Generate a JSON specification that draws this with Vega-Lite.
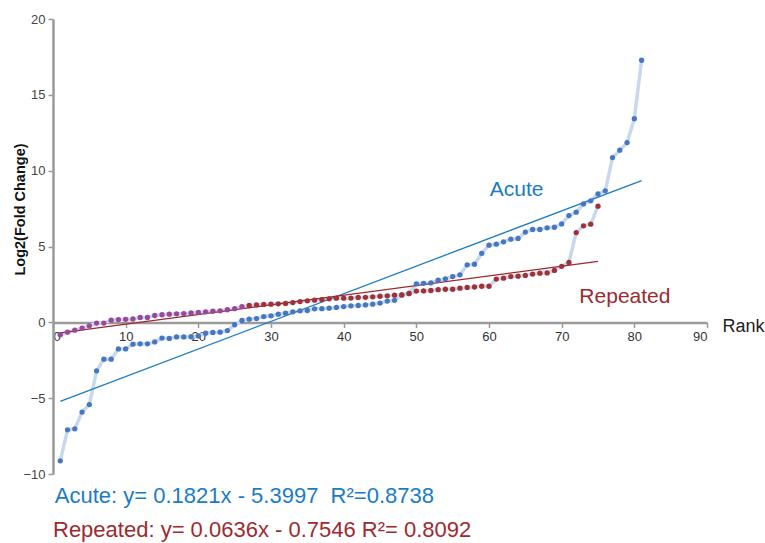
{
  "$schema": "https://vega.github.io/schema/vega-lite/v6.json",
  "width": 654,
  "height": 455,
  "autosize": "none",
  "padding": {"left": 53, "top": 19, "right": 58, "bottom": 69},
  "background": "white",
  "config": {"view": {"stroke": null}, "font": "Liberation Sans"},
  "datasets": {
    "pts": [
      {"series":"Acute","rank":1,"value":-9.13},{"series":"Acute","rank":2,"value":-7.09},{"series":"Acute","rank":3,"value":-7.02},{"series":"Acute","rank":4,"value":-5.92},{"series":"Acute","rank":5,"value":-5.42},{"series":"Acute","rank":6,"value":-3.2},{"series":"Acute","rank":7,"value":-2.43},{"series":"Acute","rank":8,"value":-2.43},{"series":"Acute","rank":9,"value":-1.75},{"series":"Acute","rank":10,"value":-1.75},
      {"series":"Acute","rank":11,"value":-1.44},{"series":"Acute","rank":12,"value":-1.42},{"series":"Acute","rank":13,"value":-1.42},{"series":"Acute","rank":14,"value":-1.29},{"series":"Acute","rank":15,"value":-1.04},{"series":"Acute","rank":16,"value":-1.06},{"series":"Acute","rank":17,"value":-0.96},{"series":"Acute","rank":18,"value":-0.96},{"series":"Acute","rank":19,"value":-0.95},{"series":"Acute","rank":20,"value":-0.9},
      {"series":"Acute","rank":21,"value":-0.72},{"series":"Acute","rank":22,"value":-0.67},{"series":"Acute","rank":23,"value":-0.65},{"series":"Acute","rank":24,"value":-0.54},{"series":"Acute","rank":25,"value":-0.16},{"series":"Acute","rank":26,"value":0.12},{"series":"Acute","rank":27,"value":0.21},{"series":"Acute","rank":28,"value":0.25},{"series":"Acute","rank":29,"value":0.38},{"series":"Acute","rank":30,"value":0.43},
      {"series":"Acute","rank":31,"value":0.54},{"series":"Acute","rank":32,"value":0.6},{"series":"Acute","rank":33,"value":0.69},{"series":"Acute","rank":34,"value":0.76},{"series":"Acute","rank":35,"value":0.78},{"series":"Acute","rank":36,"value":0.89},{"series":"Acute","rank":37,"value":0.9},{"series":"Acute","rank":38,"value":0.93},{"series":"Acute","rank":39,"value":0.98},{"series":"Acute","rank":40,"value":1.04},
      {"series":"Acute","rank":41,"value":1.09},{"series":"Acute","rank":42,"value":1.11},{"series":"Acute","rank":43,"value":1.15},{"series":"Acute","rank":44,"value":1.2},{"series":"Acute","rank":45,"value":1.27},{"series":"Acute","rank":46,"value":1.4},{"series":"Acute","rank":47,"value":1.45},{"series":"Acute","rank":48,"value":1.81},{"series":"Acute","rank":49,"value":1.9},{"series":"Acute","rank":50,"value":2.54},
      {"series":"Acute","rank":51,"value":2.57},{"series":"Acute","rank":52,"value":2.6},{"series":"Acute","rank":53,"value":2.78},{"series":"Acute","rank":54,"value":2.87},{"series":"Acute","rank":55,"value":3.02},{"series":"Acute","rank":56,"value":3.13},{"series":"Acute","rank":57,"value":3.79},{"series":"Acute","rank":58,"value":3.83},{"series":"Acute","rank":59,"value":4.54},{"series":"Acute","rank":60,"value":5.09},
      {"series":"Acute","rank":61,"value":5.15},{"series":"Acute","rank":62,"value":5.31},{"series":"Acute","rank":63,"value":5.48},{"series":"Acute","rank":64,"value":5.53},{"series":"Acute","rank":65,"value":5.95},{"series":"Acute","rank":66,"value":6.12},{"series":"Acute","rank":67,"value":6.12},{"series":"Acute","rank":68,"value":6.23},{"series":"Acute","rank":69,"value":6.27},{"series":"Acute","rank":70,"value":6.49},
      {"series":"Acute","rank":71,"value":7.04},{"series":"Acute","rank":72,"value":7.26},{"series":"Acute","rank":73,"value":7.81},{"series":"Acute","rank":74,"value":8.01},{"series":"Acute","rank":75,"value":8.47},{"series":"Acute","rank":76,"value":8.67},{"series":"Acute","rank":77,"value":10.86},{"series":"Acute","rank":78,"value":11.35},{"series":"Acute","rank":79,"value":11.85},{"series":"Acute","rank":80,"value":13.43},
      {"series":"Acute","rank":81,"value":17.28},
      {"series":"Repeated","rank":1,"value":-0.82},{"series":"Repeated","rank":2,"value":-0.65},{"series":"Repeated","rank":3,"value":-0.52},{"series":"Repeated","rank":4,"value":-0.38},{"series":"Repeated","rank":5,"value":-0.23},{"series":"Repeated","rank":6,"value":-0.05},{"series":"Repeated","rank":7,"value":-0.05},{"series":"Repeated","rank":8,"value":0.14},{"series":"Repeated","rank":9,"value":0.18},{"series":"Repeated","rank":10,"value":0.2},
      {"series":"Repeated","rank":11,"value":0.22},{"series":"Repeated","rank":12,"value":0.32},{"series":"Repeated","rank":13,"value":0.32},{"series":"Repeated","rank":14,"value":0.45},{"series":"Repeated","rank":15,"value":0.5},{"series":"Repeated","rank":16,"value":0.54},{"series":"Repeated","rank":17,"value":0.56},{"series":"Repeated","rank":18,"value":0.58},{"series":"Repeated","rank":19,"value":0.62},{"series":"Repeated","rank":20,"value":0.65},
      {"series":"Repeated","rank":21,"value":0.69},{"series":"Repeated","rank":22,"value":0.73},{"series":"Repeated","rank":23,"value":0.76},{"series":"Repeated","rank":24,"value":0.83},{"series":"Repeated","rank":25,"value":0.9},{"series":"Repeated","rank":26,"value":1.04},{"series":"Repeated","rank":27,"value":1.11},{"series":"Repeated","rank":28,"value":1.15},{"series":"Repeated","rank":29,"value":1.18},{"series":"Repeated","rank":30,"value":1.2},
      {"series":"Repeated","rank":31,"value":1.22},{"series":"Repeated","rank":32,"value":1.25},{"series":"Repeated","rank":33,"value":1.3},{"series":"Repeated","rank":34,"value":1.37},{"series":"Repeated","rank":35,"value":1.42},{"series":"Repeated","rank":36,"value":1.46},{"series":"Repeated","rank":37,"value":1.5},{"series":"Repeated","rank":38,"value":1.55},{"series":"Repeated","rank":39,"value":1.59},{"series":"Repeated","rank":40,"value":1.59},
      {"series":"Repeated","rank":41,"value":1.6},{"series":"Repeated","rank":42,"value":1.64},{"series":"Repeated","rank":43,"value":1.65},{"series":"Repeated","rank":44,"value":1.68},{"series":"Repeated","rank":45,"value":1.72},{"series":"Repeated","rank":46,"value":1.75},{"series":"Repeated","rank":47,"value":1.79},{"series":"Repeated","rank":48,"value":1.81},{"series":"Repeated","rank":49,"value":1.9},{"series":"Repeated","rank":50,"value":2.06},
      {"series":"Repeated","rank":51,"value":2.07},{"series":"Repeated","rank":52,"value":2.1},{"series":"Repeated","rank":53,"value":2.15},{"series":"Repeated","rank":54,"value":2.18},{"series":"Repeated","rank":55,"value":2.18},{"series":"Repeated","rank":56,"value":2.25},{"series":"Repeated","rank":57,"value":2.3},{"series":"Repeated","rank":58,"value":2.33},{"series":"Repeated","rank":59,"value":2.38},{"series":"Repeated","rank":60,"value":2.38},
      {"series":"Repeated","rank":61,"value":2.85},{"series":"Repeated","rank":62,"value":2.91},{"series":"Repeated","rank":63,"value":3.02},{"series":"Repeated","rank":64,"value":3.04},{"series":"Repeated","rank":65,"value":3.09},{"series":"Repeated","rank":66,"value":3.18},{"series":"Repeated","rank":67,"value":3.24},{"series":"Repeated","rank":68,"value":3.26},{"series":"Repeated","rank":69,"value":3.42},{"series":"Repeated","rank":70,"value":3.69},
      {"series":"Repeated","rank":71,"value":3.95},{"series":"Repeated","rank":72,"value":5.92},{"series":"Repeated","rank":73,"value":6.36},{"series":"Repeated","rank":74,"value":6.47},{"series":"Repeated","rank":75,"value":7.66}
    ],
    "trend": [
      {"series":"Acute","rank":1,"value":-5.2176},
      {"series":"Acute","rank":81,"value":9.3504},
      {"series":"Repeated","rank":1,"value":-0.691},
      {"series":"Repeated","rank":75,"value":4.0154}
    ],
    "notes": [
      {"series":"Acute","label":"Acute","rank":63.8,"value":8.7},
      {"series":"Repeated","label":"Repeated","rank":78.7,"value":1.65}
    ],
    "eqs": [
      {"series":"Acute","label":"Acute: y= 0.1821x - 5.3997\u00a0 R²=0.8738","rank":0.25,"value":-11.9},
      {"series":"Repeated","label":"Repeated: y= 0.0636x - 0.7546 R²= 0.8092","rank":0,"value":-14.15}
    ]
  },
  "layer": [
    {
      "data": {"name": "pts"},
      "mark": {"type": "line", "color": "#c8d8ef", "strokeWidth": 3.5},
      "encoding": {
        "x": {"field": "rank", "type": "quantitative",
          "scale": {"domain": [0, 90], "nice": false},
          "axis": {
            "offset": -151.5, "values": [0,10,20,30,40,50,60,70,80,90],
            "domainColor": "#9a9a9a", "domainWidth": 2.5, "tickColor": "#9a9a9a", "tickWidth": 1.5, "tickSize": 5,
            "labelFontSize": 13, "labelColor": "#333333", "labelPadding": 3, "grid": false,
            "title": "Rank", "titleFontSize": 18, "titleFontWeight": "normal", "titleColor": "#222222",
            "titleAlign": "left", "titleBaseline": "middle", "titleX": 669, "titleY": 4
          }},
        "y": {"field": "value", "type": "quantitative",
          "scale": {"domain": [-10, 20], "nice": false},
          "axis": {
            "values": [-10,-5,0,5,10,15,20],
            "domainColor": "#9a9a9a", "domainWidth": 2.5, "tickColor": "#9a9a9a", "tickWidth": 1.5, "tickSize": 5,
            "labelFontSize": 13, "labelColor": "#444444", "labelPadding": 3, "grid": false,
            "title": "Log2(Fold Change)", "titleFontSize": 14.5, "titleFontWeight": "bold", "titleColor": "#111111",
            "titleAngle": 270, "titleAlign": "center", "titleBaseline": "middle", "titleX": -33, "titleY": 190
          }},
        "detail": {"field": "series"},
        "order": {"field": "rank"}
      }
    },
    {
      "data": {"name": "trend"},
      "mark": {"type": "line", "strokeWidth": 1.3},
      "encoding": {
        "x": {"field": "rank", "type": "quantitative"},
        "y": {"field": "value", "type": "quantitative"},
        "detail": {"field": "series"},
        "color": {"condition": {"test": "datum.series === 'Acute'", "value": "#1a7cc6"}, "value": "#a1262c"}
      }
    },
    {
      "data": {"name": "pts"},
      "mark": {"type": "circle", "size": 28, "opacity": 1},
      "encoding": {
        "x": {"field": "rank", "type": "quantitative"},
        "y": {"field": "value", "type": "quantitative"},
        "color": {"condition": [
          {"test": "datum.series === 'Acute'", "value": "#4677c3"},
          {"test": "datum.rank <= 26", "value": "#9a479c"}
        ], "value": "#a23136"}
      }
    },
    {
      "data": {"name": "notes"},
      "mark": {"type": "text", "fontSize": 21, "align": "center", "baseline": "middle"},
      "encoding": {
        "x": {"field": "rank", "type": "quantitative"},
        "y": {"field": "value", "type": "quantitative"},
        "text": {"field": "label"},
        "color": {"condition": {"test": "datum.series === 'Acute'", "value": "#1a7cc6"}, "value": "#9e2a2f"}
      }
    },
    {
      "data": {"name": "eqs"},
      "mark": {"type": "text", "fontSize": 22, "align": "left", "baseline": "alphabetic"},
      "encoding": {
        "x": {"field": "rank", "type": "quantitative"},
        "y": {"field": "value", "type": "quantitative"},
        "text": {"field": "label"},
        "color": {"condition": {"test": "datum.series === 'Acute'", "value": "#1a7cc6"}, "value": "#9e2a2f"}
      }
    }
  ]
}
